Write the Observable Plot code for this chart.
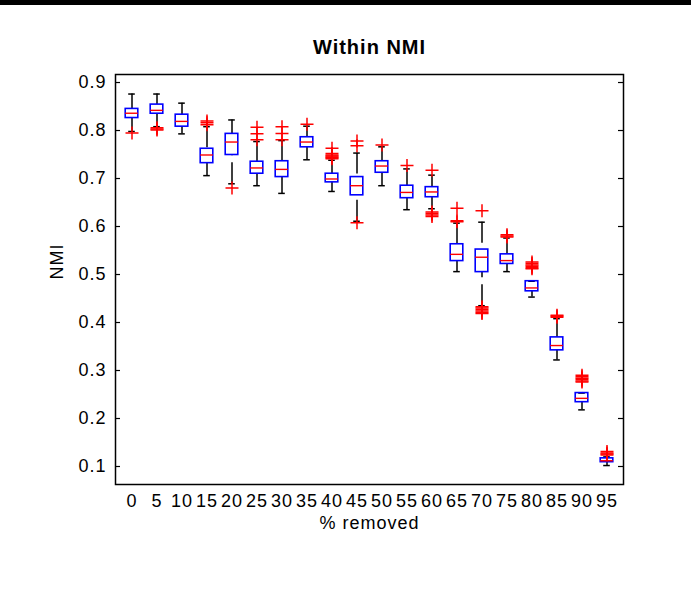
<!DOCTYPE html>
<html><head><meta charset="utf-8">
<script src="https://cdn.jsdelivr.net/npm/d3@7"></script>
<script src="https://cdn.jsdelivr.net/npm/@observablehq/plot@0.6"></script>
<style>
html,body{margin:0;padding:0;background:#fff;}
#wrap{position:relative;width:691px;height:603px;overflow:hidden;}
#bar{position:absolute;left:0;top:0;width:691px;height:5px;background:#000;}
#wrap svg text{letter-spacing:1px;}
</style></head><body><div id="wrap"><div id="bar"></div></div>
<script>
const categories = ["0","5","10","15","20","25","30","35","40","45","50","55","60","65","70","75","80","85","90","95"];
const q1       = [0.826,0.835,0.808,0.732,0.749,0.710,0.703,0.765,0.692,0.665,0.712,0.659,0.661,0.528,0.505,0.522,0.465,0.342,0.234,0.109];
const median   = [0.836,0.842,0.819,0.749,0.776,0.722,0.719,0.776,0.699,0.685,0.726,0.671,0.672,0.542,0.536,0.529,0.472,0.352,0.242,0.112];
const q3       = [0.845,0.854,0.833,0.762,0.793,0.735,0.736,0.786,0.710,0.703,0.736,0.685,0.682,0.563,0.552,0.542,0.486,0.369,0.253,0.117];
const whiskerLo= [0.798,0.808,0.793,0.706,0.689,0.685,0.669,0.739,0.673,0.611,0.685,0.635,0.637,0.506,0.435,0.506,0.453,0.322,0.218,0.102];
const whiskerHi= [0.876,0.876,0.857,0.808,0.822,0.777,0.779,0.809,0.738,0.753,0.766,0.720,0.707,0.607,0.609,0.576,0.486,0.408,0.253,0.120];
const outliers = [
  [0.795],
  [0.806,0.803,0.801],
  [],
  [0.820,0.816,0.812],
  [0.680],
  [0.807,0.793,0.781],
  [0.808,0.794,0.781],
  [0.813],
  [0.763,0.752,0.749,0.747,0.745,0.743,0.741],
  [0.778,0.768,0.608],
  [0.770],
  [0.727],
  [0.717,0.630,0.627,0.624,0.621],
  [0.638,0.612,0.610],
  [0.633,0.433,0.430,0.427,0.424,0.421,0.419],
  [0.583,0.580,0.578],
  [0.526,0.523,0.520,0.517,0.514,0.512],
  [0.415,0.413,0.411],
  [0.290,0.287,0.284,0.281,0.278,0.276],
  [0.131,0.128,0.126,0.124]
];
const yTicks = [0.1,0.2,0.3,0.4,0.5,0.6,0.7,0.8,0.9];
const title = "Within NMI";
const xLabel = "% removed";
const yLabel = "NMI";

const boxes = categories.map((c,i)=>({cat:c,q1:q1[i],med:median[i],q3:q3[i],lo:whiskerLo[i],hi:whiskerHi[i]}));
const outRows = categories.flatMap((c,i)=>outliers[i].map(v=>({cat:c,v})));

const plusSymbol = {
  draw(context, size) {
    const r = Math.sqrt(size / Math.PI);
    context.moveTo(-r, 0); context.lineTo(r, 0);
    context.moveTo(0, -r); context.lineTo(0, r);
  }
};

const W = 508; // frame width
const chart = Plot.plot({
  width: 691, height: 603,
  marginLeft: 115, marginRight: 68, marginTop: 74, marginBottom: 119,
  style: {fontFamily: "'Liberation Sans', Arial, sans-serif", fontSize: "18px", color: "black", background: "white"},
  x: {type: "band", domain: categories, padding: 0},
  y: {domain: [0.0625, 0.9167]},
  marks: [
    Plot.tickY(yTicks, {y: d=>d, insetRight: W-5, stroke: "black", strokeWidth: 1.2}),
    Plot.tickY(yTicks, {y: d=>d, insetLeft: W-5, stroke: "black", strokeWidth: 1.2}),
    Plot.ruleX(boxes, {x: "cat", y1: "hi", y2: "q3", stroke: "black", strokeWidth: 1.5, strokeDasharray: "21,7"}),
    Plot.ruleX(boxes, {x: "cat", y1: "lo", y2: "q1", stroke: "black", strokeWidth: 1.5, strokeDasharray: "21,7"}),
    Plot.tickY(boxes, {x: "cat", y: "hi", insetLeft: 9.2, insetRight: 9.2, stroke: "black", strokeWidth: 1.5}),
    Plot.tickY(boxes, {x: "cat", y: "lo", insetLeft: 9.2, insetRight: 9.2, stroke: "black", strokeWidth: 1.5}),
    Plot.barY(boxes, {x: "cat", y1: "q1", y2: "q3", fill: "none", stroke: "#0000ff", strokeWidth: 1.6, insetLeft: 6.2, insetRight: 6.2}),
    Plot.tickY(boxes, {x: "cat", y: "med", insetLeft: 6.2, insetRight: 6.2, stroke: "#ff0000", strokeWidth: 1.4}),
    Plot.dot(outRows, {x: "cat", y: "v", symbol: plusSymbol, r: 6.5, fill: "none", stroke: "#ff0000", strokeWidth: 1.5}),
    Plot.axisY({ticks: yTicks, tickSize: 0, tickPadding: 9, tickFormat: d3.format(".1f"), label: null, fontSize: 18}),
    Plot.axisX({tickSize: 0, tickPadding: 10, label: null, fontSize: 18}),
    Plot.frame({stroke: "black", strokeWidth: 1.5}),
    Plot.text([title], {text: d=>d, frameAnchor: "top", dy: -26.5, lineAnchor: "middle", fontWeight: "bold", fontSize: 20}),
    Plot.text([xLabel], {text: d=>d, frameAnchor: "bottom", dy: 39, lineAnchor: "middle", fontSize: 18}),
    Plot.text([yLabel], {text: d=>d, frameAnchor: "left", dx: -58, rotate: -90, lineAnchor: "middle", fontSize: 18})
  ]
});
document.getElementById("wrap").appendChild(chart);
</script>
</body></html>
